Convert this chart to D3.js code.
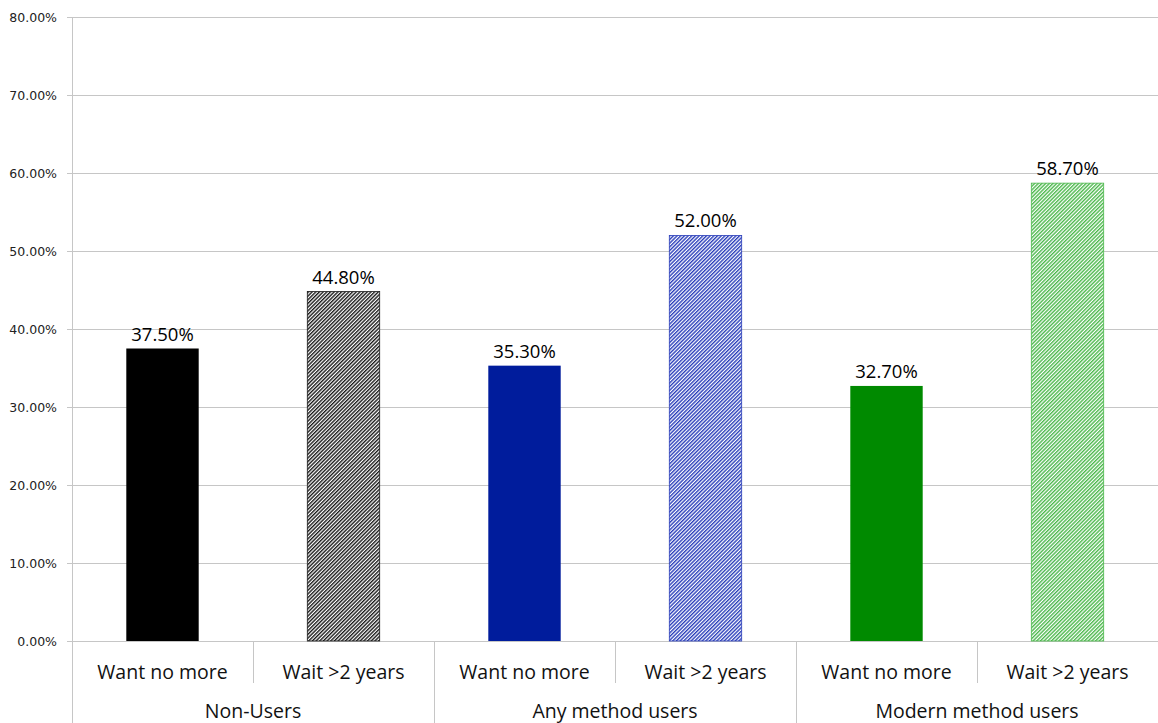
<!DOCTYPE html>
<html>
<head>
<meta charset="utf-8">
<script src="https://cdn.jsdelivr.net/npm/d3@7"></script>
<style>
  html, body { margin: 0; padding: 0; background: #fff; }
  svg { display: block; }
</style>
</head>
<body>
<svg id="chart" width="1158" height="723"></svg>
<script>
// Groups and sub-categories along the x axis
const groups = ["Non-Users", "Any method users", "Modern method users"];
const subCategories = ["Want no more", "Wait >2 years"];
// Percentages, in order: group by group, sub-category by sub-category
const values = [37.5, 44.8, 35.3, 52.0, 32.7, 58.7];
const yTicks = [0, 10, 20, 30, 40, 50, 60, 70, 80];

(function () {
const svg = d3.select("#chart");
const W = 1158, H = 723;
const mLeft = 72, mRight = 1158, mTop = 17, mBottom = 641;
const font = "'Open Sans', sans-serif";

// Fill styles: solid for "Want no more", fine diagonal hatch for "Wait >2 years"
const solidColors = ["#000000", "#001c9c", "#008a00"];
const hatchColors = ["#1a1a1a", "#2a3eba", "#4cb84c"];

const defs = svg.append("defs");
hatchColors.forEach((c, i) => {
  const p = defs.append("pattern")
    .attr("id", "hatch" + i)
    .attr("patternUnits", "userSpaceOnUse")
    .attr("width", 2.6).attr("height", 2.6)
    .attr("patternTransform", "rotate(45)");
  p.append("rect").attr("width", 2.6).attr("height", 2.6).attr("fill", "#fff");
  p.append("rect").attr("width", 1.4).attr("height", 2.6).attr("fill", c);
});

const keys = [];
groups.forEach(g => subCategories.forEach(s => keys.push(g + "|" + s)));

const x = d3.scaleBand().domain(keys).range([mLeft, mRight]).paddingInner(0).paddingOuter(0);
const y = d3.scaleLinear().domain([0, 80]).range([mBottom, mTop]);

const gridColor = "#c6c6c6";

// Horizontal grid lines with short ticks on the left
const yAxis = d3.axisLeft(y)
  .tickValues(yTicks)
  .tickSize(-(mRight - mLeft))
  .tickFormat(d => d.toFixed(2) + "%");
const gy = svg.append("g").attr("transform", `translate(${mLeft},0)`).call(yAxis);
gy.select(".domain").remove();
gy.selectAll(".tick line")
  .attr("x1", -5)
  .attr("stroke", gridColor).attr("stroke-width", 1);
gy.selectAll(".tick text")
  .attr("x", -15)
  .attr("dy", "0.35em")
  .attr("fill", "#222")
  .style("font-family", "'DejaVu Sans', sans-serif")
  .style("font-size", "12.5px");

// Vertical axis line runs down through the category area
svg.append("line")
  .attr("x1", mLeft + 0.5).attr("x2", mLeft + 0.5)
  .attr("y1", mTop).attr("y2", H)
  .attr("stroke", gridColor);

// Bars
const barW = x.bandwidth() * 0.4;
keys.forEach((k, i) => {
  const gi = Math.floor(i / 2), si = i % 2;
  const cx = x(k) + x.bandwidth() / 2;
  svg.append("rect")
    .attr("x", cx - barW / 2)
    .attr("y", y(values[i]))
    .attr("width", barW)
    .attr("height", y(0) - y(values[i]))
    .attr("fill", si === 0 ? solidColors[gi] : `url(#hatch${gi})`)
    .attr("stroke", si === 0 ? "none" : hatchColors[gi])
    .attr("stroke-width", 0.8);
  svg.append("text")
    .attr("x", cx)
    .attr("y", y(values[i]) - 8)
    .attr("text-anchor", "middle")
    .attr("fill", "#000")
    .style("font-family", font)
    .style("font-size", "18.5px")
    .text(values[i].toFixed(2) + "%");
});

// Category dividers: short between sub-categories, full between groups
keys.forEach((k, i) => {
  const xx = Math.round(x(k) + x.bandwidth()) + 0.5;
  if (i % 2 === 0) {
    svg.append("line")
      .attr("x1", xx).attr("x2", xx).attr("y1", mBottom).attr("y2", 683)
      .attr("stroke", gridColor);
  } else if (i < keys.length - 1) {
    svg.append("line")
      .attr("x1", xx).attr("x2", xx).attr("y1", mBottom).attr("y2", H)
      .attr("stroke", gridColor);
  }
});

// Sub-category labels
keys.forEach((k) => {
  svg.append("text")
    .attr("x", x(k) + x.bandwidth() / 2)
    .attr("y", 679)
    .attr("text-anchor", "middle")
    .attr("fill", "#111")
    .style("font-family", font)
    .style("font-size", "19.5px")
    .text(k.split("|")[1]);
});

// Group labels
groups.forEach((g) => {
  const x0 = x(g + "|" + subCategories[0]);
  const x1 = x(g + "|" + subCategories[1]) + x.bandwidth();
  svg.append("text")
    .attr("x", (x0 + x1) / 2)
    .attr("y", 718)
    .attr("text-anchor", "middle")
    .attr("fill", "#111")
    .style("font-family", font)
    .style("font-size", "19.5px")
    .text(g);
});
})();
</script>
</body>
</html>
